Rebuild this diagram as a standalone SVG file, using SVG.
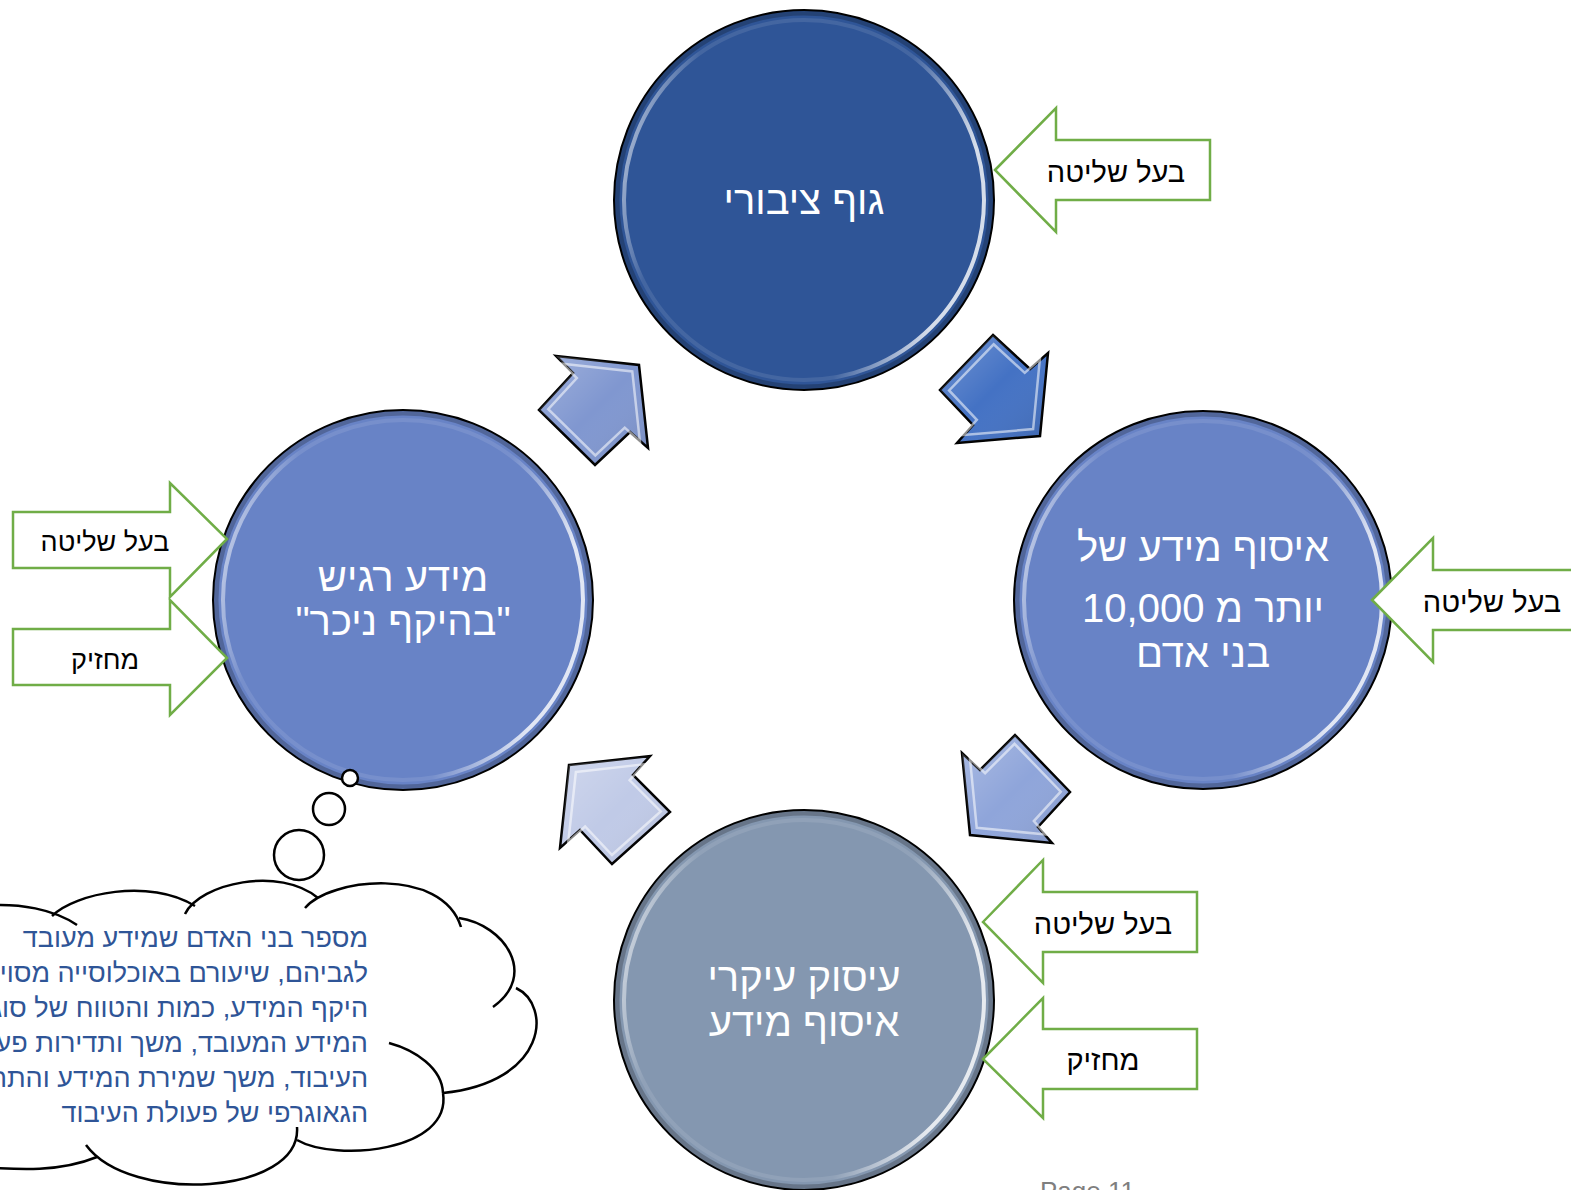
<svg xmlns="http://www.w3.org/2000/svg" width="1571" height="1190" viewBox="0 0 1571 1190">
<defs>
<linearGradient id="ring" x1="0" y1="0" x2="1" y2="0.25">
<stop offset="0" stop-color="#fff" stop-opacity="0.85"/>
<stop offset="0.22" stop-color="#fff" stop-opacity="0.1"/>
<stop offset="0.78" stop-color="#fff" stop-opacity="0.1"/>
<stop offset="1" stop-color="#fff" stop-opacity="0.8"/>
</linearGradient>
<linearGradient id="shade" x1="0" y1="0" x2="1" y2="1">
<stop offset="0" stop-color="#fff" stop-opacity="0.25"/>
<stop offset="0.5" stop-color="#fff" stop-opacity="0"/>
<stop offset="1" stop-color="#000" stop-opacity="0.12"/>
</linearGradient>
</defs>
<style>
.circ{stroke:#000;stroke-width:2}
.rim{fill:none;stroke:#000;stroke-opacity:0.22;stroke-width:5}
.ringhl{fill:none;stroke:url(#ring);stroke-width:4}
.ctext{font-family:"Liberation Sans","DejaVu Sans",sans-serif;font-size:40px;fill:#fff;text-anchor:middle}
.barrow{stroke:#000;stroke-width:2.5;stroke-linejoin:miter}
.bhl{fill:none;stroke:#fff;stroke-opacity:0.55;stroke-width:3}
.garrow{fill:#fff;stroke:#70AD47;stroke-width:2.5}
.gtext{font-family:"Liberation Sans","DejaVu Sans",sans-serif;font-size:29px;fill:#000;text-anchor:middle}
.gtext-s{font-size:27px}
.cloud{fill:none;stroke:#000;stroke-width:2.5}
.bubble{fill:#fff;stroke:#000;stroke-width:2.5}
.cloudtext{font-family:"Liberation Sans","DejaVu Sans",sans-serif;font-size:27px;fill:#2F5597;text-anchor:start}
</style>
<rect width="1571" height="1190" fill="#fff"/>

<g id="connectors">
<g id="arrow-top-right">
<polygon class="barrow" fill="#4472C4" points="993,335 1030,369 1048,353 1040,436 957,443 973,425 940,390"/>
<polygon fill="url(#shade)" points="993,335 1030,369 1048,353 1040,436 957,443 973,425 940,390"/>
<polygon class="bhl" points="993,335 1030,369 1048,353 1040,436 957,443 973,425 940,390" transform="translate(997 393) scale(0.84) translate(-997 -393)"/>
</g>
<g id="arrow-top-left">
<polygon class="barrow" fill="#8097D0" points="556,356 639,365 648,448 630,432 595,465 539,410 573,373"/>
<polygon fill="url(#shade)" points="556,356 639,365 648,448 630,432 595,465 539,410 573,373"/>
<polygon class="bhl" points="556,356 639,365 648,448 630,432 595,465 539,410 573,373" transform="translate(597 405) scale(0.84) translate(-597 -405)"/>
</g>
<g id="arrow-right-bottom">
<polygon class="barrow" fill="#8FA5DA" points="1015,735 1070,792 1038,827 1052,843 970,835 962,753 980,770"/>
<polygon fill="url(#shade)" points="1015,735 1070,792 1038,827 1052,843 970,835 962,753 980,770"/>
<polygon class="bhl" points="1015,735 1070,792 1038,827 1052,843 970,835 962,753 980,770" transform="translate(1012 790) scale(0.84) translate(-1012 -790)"/>
</g>
<g id="arrow-bottom-left">
<polygon class="barrow" fill="#C0CAE7" points="569,765 650,756 633,775 670,812 612,864 580,830 560,848"/>
<polygon fill="url(#shade)" points="569,765 650,756 633,775 670,812 612,864 580,830 560,848"/>
<polygon class="bhl" points="569,765 650,756 633,775 670,812 612,864 580,830 560,848" transform="translate(612 808) scale(0.84) translate(-612 -808)"/>
</g>
</g>

<g id="node-top">
<circle class="circ" cx="804" cy="200" r="190" fill="#2F5597"/>
<circle class="rim" cx="804" cy="200" r="187"/>
<circle class="ringhl" cx="804" cy="200" r="180"/>
<text class="ctext" x="804" y="214" direction="rtl">גוף ציבורי</text>
</g>

<g id="node-right">
<circle class="circ" cx="1203" cy="600" r="189" fill="#6883C6"/>
<circle class="rim" cx="1203" cy="600" r="186"/>
<circle class="ringhl" cx="1203" cy="600" r="179"/>
<text class="ctext" x="1203" y="561" direction="rtl">איסוף מידע של</text>
<text class="ctext" x="1203" y="622" direction="rtl">יותר מ 10,000</text>
<text class="ctext" x="1203" y="667" direction="rtl">בני אדם</text>
</g>

<g id="node-bottom">
<circle class="circ" cx="804" cy="1000" r="190" fill="#8497B0"/>
<circle class="rim" cx="804" cy="1000" r="187"/>
<circle class="ringhl" cx="804" cy="1000" r="180"/>
<text class="ctext" x="804" y="991" direction="rtl">עיסוק עיקרי</text>
<text class="ctext" x="804" y="1036" direction="rtl">איסוף מידע</text>
</g>

<g id="node-left">
<circle class="circ" cx="403" cy="600" r="190" fill="#6883C6"/>
<circle class="rim" cx="403" cy="600" r="187"/>
<circle class="ringhl" cx="403" cy="600" r="180"/>
<text class="ctext" x="403" y="591" direction="rtl">מידע רגיש</text>
<text class="ctext" x="403" y="635" direction="rtl">"בהיקף ניכר"</text>
</g>

<g id="callout-top">
<polygon class="garrow" points="995,170 1056,108 1056,140 1210,140 1210,200 1056,200 1056,232"/>
<text class="gtext" x="1116" y="182" direction="rtl">בעל שליטה</text>
</g>
<g id="callout-right">
<polygon class="garrow" points="1372,600 1433,538 1433,570 1600,570 1600,630 1433,630 1433,662"/>
<text class="gtext" x="1492" y="612" direction="rtl">בעל שליטה</text>
</g>
<g id="callout-bottom-1">
<polygon class="garrow" points="983,922 1043,860 1043,892 1197,892 1197,952 1043,952 1043,983"/>
<text class="gtext" x="1103" y="934" direction="rtl">בעל שליטה</text>
</g>
<g id="callout-bottom-2">
<polygon class="garrow" points="983,1059 1043,998 1043,1029 1197,1029 1197,1089 1043,1089 1043,1118"/>
<text class="gtext" x="1103" y="1070" direction="rtl">מחזיק</text>
</g>
<g id="callout-left-1">
<polygon class="garrow" points="13,512 170,512 170,483 227,539 170,597 170,568 13,568"/>
<text class="gtext gtext-s" x="105" y="551" direction="rtl">בעל שליטה</text>
</g>
<g id="callout-left-2">
<polygon class="garrow" points="13,629 170,629 170,600 227,658 170,715 170,685 13,685"/>
<text class="gtext gtext-s" x="105" y="669" direction="rtl">מחזיק</text>
</g>

<g id="thought-cloud">
<circle class="bubble" cx="350" cy="778" r="8"/>
<circle class="bubble" cx="329" cy="809" r="16"/>
<circle class="bubble" cx="299" cy="855" r="25"/>
<path fill="#fff" d="M -10,905 C 20,903 45,908 58,912 C 85,890 150,882 190,906 C 205,882 275,870 312,900 C 340,878 435,870 458,920 C 505,925 535,975 505,995 C 550,1010 545,1080 443,1093 C 450,1150 330,1160 297,1135 C 300,1190 130,1200 90,1150 C 60,1170 20,1170 -10,1167 Z"/>
<path class="cloud" d="M -20,906 C 20,902 55,910 77,925"/>
<path class="cloud" d="M 52,916 C 75,893 150,878 195,906"/>
<path class="cloud" d="M 185,914 C 200,883 280,866 318,898"/>
<path class="cloud" d="M 305,908 C 330,878 442,866 461,927"/>
<path class="cloud" d="M 459,918 C 505,925 538,975 493,1007"/>
<path class="cloud" d="M 516,988 C 552,1005 548,1082 443,1093"/>
<path class="cloud" d="M 389,1043 C 415,1050 442,1068 443,1093"/>
<path class="cloud" d="M 443,1093 C 452,1152 335,1162 297,1140"/>
<path class="cloud" d="M 297,1127 C 302,1195 130,1205 86,1145"/>
<path class="cloud" d="M 97,1157 C 60,1172 20,1170 -20,1167"/>
<text class="cloudtext" x="368" y="947" direction="rtl">מספר בני האדם שמידע מעובד</text>
<text class="cloudtext" x="368" y="982" direction="rtl">לגביהם, שיעורם באוכלוסייה מסוימת,</text>
<text class="cloudtext" x="368" y="1017" direction="rtl">היקף המידע, כמות והטווח של סוגי</text>
<text class="cloudtext" x="368" y="1052" direction="rtl">המידע המעובד, משך ותדירות פעולות</text>
<text class="cloudtext" x="368" y="1087" direction="rtl">העיבוד, משך שמירת המידע והתחום</text>
<text class="cloudtext" x="368" y="1122" direction="rtl">הגאוגרפי של פעולת העיבוד</text>
</g>

<text x="1040" y="1200" font-family="Liberation Sans, sans-serif" font-size="26" fill="#7F7F7F">Page 11</text>
</svg>
